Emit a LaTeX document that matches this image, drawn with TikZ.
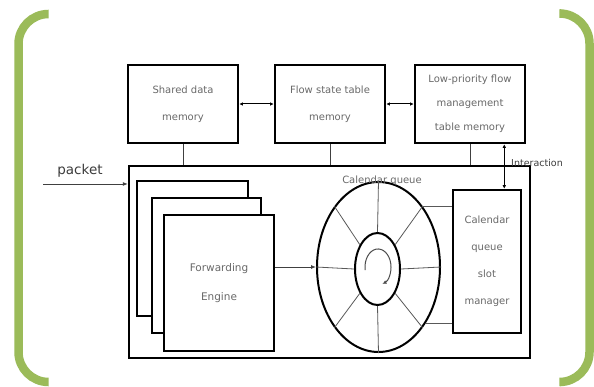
\documentclass[tikz,border=0pt]{standalone}
\usepackage{fontspec}
\setmainfont{DejaVu Sans}
\usetikzlibrary{shapes.geometric,arrows.meta}
\definecolor{brk}{RGB}{155,187,89}
\definecolor{txt}{RGB}{105,105,105}
\definecolor{dtxt}{RGB}{60,60,60}
\begin{document}
\begin{tikzpicture}[x=1pt,y=-1pt,
  bracket/.style={draw=brk,line width=8.5pt,rounded corners=30pt},
  membox/.style={draw,line width=2.6pt,rectangle,minimum width=110pt,minimum height=78pt,inner sep=0pt,text=txt,align=center,font=\fontsize{10}{27}\selectfont},
  febox/.style={draw,line width=2.4pt,fill=white,rectangle,inner sep=0pt,text=txt,align=center,font=\fontsize{10.5}{29}\selectfont},
  conn/.style={line width=1pt,{Latex[length=3.5pt,width=3.5pt]}-{Latex[length=3.5pt,width=3.5pt]}},
  thin/.style={line width=0.9pt,draw=black!75},
  spoke/.style={line width=0.8pt,draw=black!65},
  lbl/.style={inner sep=0pt,text=txt,font=\fontsize{10}{12}\selectfont}]
\useasboundingbox (0,0) rectangle (594,387);
\fill[white] (0,0) rectangle (594,387);
% green brackets
\draw[bracket] (48,14) -- (18.5,14) -- (18.5,382) -- (48,382);
\draw[bracket] (561,13.5) -- (589.5,13.5) -- (589.5,382) -- (561,382);
% memory boxes
\node[membox] (sdm) at (183,104) {Shared data\\memory};
\node[membox] (fst) at (330,104) {Flow state table\\memory};
\node[membox,font=\fontsize{10}{24}\selectfont] (lpf) at (470,104) {Low-priority flow\\management\\table memory};
\draw[conn] (sdm.east) -- (fst.west);
\draw[conn] (fst.east) -- (lpf.west);
% big box
\node[draw,line width=2.3pt,rectangle,minimum width=401pt,minimum height=192pt,inner sep=0pt] (big) at (329.5,262) {};
\draw[thin] (sdm.south) -- (sdm.south |- big.north);
\draw[thin] (fst.south) -- (fst.south |- big.north);
\draw[thin] (lpf.south) -- (lpf.south |- big.north);
% packet
\node[inner sep=0pt,text=dtxt,font=\fontsize{13.5}{15}\selectfont] (pk) at (80,171) {packet};
\coordinate (pin) at (43,184);
\draw[thin,-{Latex[length=5pt,width=4pt]}] (pin) -- (pin -| big.west);
% forwarding engines
\node[febox,minimum width=111pt,minimum height=135pt] (fe1) at (192.5,248.5) {};
\node[febox,minimum width=109pt,minimum height=135pt] (fe2) at (206.5,265.5) {};
\node[febox,minimum width=110pt,minimum height=136pt] (fe3) at (219,283) {Forwarding\\Engine};
% calendar queue
\node[draw,ellipse,line width=2pt,minimum width=123pt,minimum height=170pt,inner sep=0pt] (outer) at (378.5,267) {};
\node[draw,ellipse,line width=2pt,minimum width=45pt,minimum height=72pt,inner sep=0pt] (inner) at (377.5,269) {};
\foreach \a in {0,54,90,126,180,234,270,306}
  \draw[spoke] (inner.\a) -- (outer.\a);
\node[lbl] (cq) at (382,181) {Calendar queue};
\coordinate (rot) at (365.2,270.1);
\draw[line width=1pt,draw=black!70,-{Latex[length=4pt,width=4pt]}] (rot) arc[start angle=170,end angle=430,x radius=13,y radius=18];
\draw[thin,-{Latex[length=5pt,width=4pt]}] (fe3.east |- outer.west) -- (outer.west);
% manager
\node[draw,line width=2.6pt,rectangle,minimum width=68pt,minimum height=143pt,inner sep=0pt,text=txt,align=center,font=\fontsize{10}{27}\selectfont] (mgr) at (487,261.5) {Calendar\\queue\\slot\\manager};
\draw[spoke] (outer.54) -- (outer.54 -| mgr.west);
\draw[spoke] (outer.-50) -- (outer.-50 -| mgr.west);
% interaction
\draw[conn] ([xshift=-22pt]lpf.south east) -- ([xshift=-22pt]lpf.south east |- mgr.north);
\node[inner sep=0pt,text=dtxt,font=\fontsize{9.5}{11}\selectfont] (int) at (537,163) {Interaction};
\end{tikzpicture}
\end{document}
